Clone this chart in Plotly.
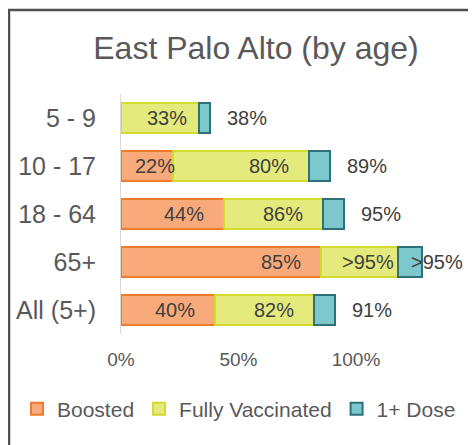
import plotly.graph_objects as go

categories = ["5 - 9", "10 - 17", "18 - 64", "65+", "All (5+)"]
boosted = [0, 22, 44, 85, 40]            # cumulative % boosted
fully_vax = [33, 80, 86, 118, 82]        # cumulative % fully vaccinated (bar end)
one_dose = [38, 89, 95, 128, 91]         # cumulative % with 1+ dose (bar end)
boosted_labels = ["", "22%", "44%", "85%", "40%"]
fully_labels = ["33%", "80%", "86%", ">95%", "82%"]
dose_labels = ["38%", "89%", "95%", ">95%", "91%"]
x_ticks = [0, 50, 100]
x_tick_labels = ["0%", "50%", "100%"]

seg_boost = boosted
seg_fully = [f - b for f, b in zip(fully_vax, boosted)]
seg_dose = [d - f for d, f in zip(one_dose, fully_vax)]

FONT = "Liberation Sans, Arial, sans-serif"
TXT = "#404040"

fig = go.Figure()
fig.add_trace(go.Bar(y=categories, x=seg_boost, orientation="h", name="Boosted",
                     marker=dict(color="#F8AA7B", line=dict(color="#F07A2A", width=2))))
fig.add_trace(go.Bar(y=categories, x=seg_fully, orientation="h", name="Fully Vaccinated",
                     marker=dict(color="#E4EA7C", line=dict(color="#D2DB2E", width=2))))
fig.add_trace(go.Bar(y=categories, x=seg_dose, orientation="h", name="1+ Dose",
                     marker=dict(color="#7CC8CC", line=dict(color="#2F717A", width=2))))

# label offsets (px) relative to segment ends
boost_shift = [0, 4, -18, -18, -18]
fully_shift = [-10, -18, -18, -2, -18]
dose_shift = [15, 15, 15, -13, 15]

ann = []
for i, c in enumerate(categories):
    if boosted_labels[i]:
        ann.append(dict(x=boosted[i], y=c, text=boosted_labels[i], xanchor="right",
                        xshift=boost_shift[i], showarrow=False,
                        font=dict(size=20, color=TXT, family=FONT)))
    ann.append(dict(x=fully_vax[i], y=c, text=fully_labels[i], xanchor="right",
                    xshift=fully_shift[i], showarrow=False,
                    font=dict(size=20, color=TXT, family=FONT)))
    ann.append(dict(x=one_dose[i], y=c, text=dose_labels[i], xanchor="left",
                    xshift=dose_shift[i], showarrow=False,
                    font=dict(size=20, color=TXT, family=FONT)))

OFF = 8  # page body margin offset
W, H = 476, 445
PW, PH = 329, 240
L, T = 121 - OFF, 94 - OFF
R, B = W - L - PW, H - T - PH
def px(x):
    return (x - OFF - L) / PW
def py(y):
    return (T + PH - (y - OFF)) / PH

fig.update_layout(
    width=W, height=H,
    margin=dict(l=L, r=R, t=T, b=B, autoexpand=False),
    paper_bgcolor="white", plot_bgcolor="white",
    barmode="stack", bargap=0.375,
    font=dict(family=FONT, color="#595959"),
    title=dict(text="East Palo Alto (by age)", xref="container", x=(256 - OFF) / W,
               xanchor="center", yref="container", y=1 - (48 - OFF) / H, yanchor="middle",
               font=dict(size=32, color="#595959", family=FONT)),
    xaxis=dict(range=[0, 140], tickvals=x_ticks, ticktext=x_tick_labels, showgrid=False,
               zeroline=False, showline=False, ticks="", ticklabelstandoff=12, automargin=False,
               tickfont=dict(size=19, color="#595959", family=FONT)),
    yaxis=dict(categoryorder="array", categoryarray=categories, autorange="reversed",
               showline=True, linecolor="#D9D9D9", linewidth=1, showgrid=False,
               zeroline=False, ticks="", ticklabelstandoff=19, automargin=False,
               tickfont=dict(size=25, color="#595959", family=FONT)),
    legend=dict(orientation="h", xref="paper", x=px(17), xanchor="left",
                yref="paper", y=py(409), yanchor="middle",
                font=dict(size=21, color="#595959", family=FONT),
                itemclick=False, traceorder="normal", tracegroupgap=0),
    annotations=ann,
    shapes=[dict(type="path", xref="paper", yref="paper",
                 path=f"M {px(9)} {py(460)} L {px(9)} {py(10)} L {px(490)} {py(10)}",
                 line=dict(color="#505050", width=2.5))],
)

fig.write_html("out.html")
